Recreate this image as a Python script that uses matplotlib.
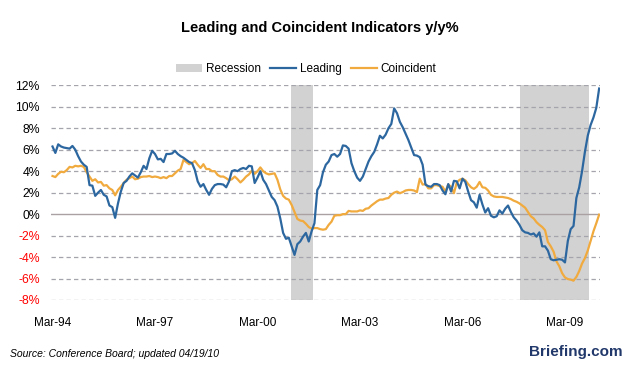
import matplotlib.pyplot as plt

plt.rcParams['font.family'] = ['Liberation Sans', 'DejaVu Sans']

# monthly y/y %, Mar-94 .. Mar-10
leading = [
    6.3, 5.7, 6.5, 6.3, 6.2, 6.15, 6.1, 6.35, 6.0, 5.4,
    4.9, 4.6, 4.4, 2.7, 2.65, 1.7, 2.0, 2.25, 1.8, 1.65,
    0.8, 0.65, -0.35, 1.0, 2.1, 2.9, 3.1, 3.5, 3.8, 3.6,
    3.4, 3.9, 4.5, 4.2, 5.2, 5.9, 5.6, 5.1, 5.15, 4.85,
    5.6, 5.6, 5.65, 5.9, 5.6, 5.4, 5.25, 5.05, 4.85, 4.75,
    4.1, 3.05, 2.55, 2.8, 2.25, 1.8, 2.35, 2.7, 2.8, 2.8,
    2.75, 2.5, 3.05, 4.0, 4.1, 4.0, 4.2, 4.3, 4.2, 4.5,
    4.45, 2.9, 3.4, 4.0, 3.2, 2.8, 2.2, 1.6, 1.3, 0.7,
    -0.4, -1.75, -2.3, -2.2, -3.0, -3.8, -2.8, -2.55, -2.1, -1.75,
    -2.55, -1.6, -0.85, 2.25, 2.7, 3.9, 4.6, 4.9, 5.5, 5.6,
    5.35, 5.6, 6.4, 6.35, 6.1, 4.75, 4.0, 3.4, 3.1, 3.5,
    4.2, 4.9, 5.4, 5.8, 6.5, 7.3, 7.05, 7.4, 8.0, 8.4,
    9.85, 9.4, 8.6, 8.1, 7.5, 6.9, 6.2, 5.5, 5.45, 5.3,
    4.6, 2.75, 2.6, 2.55, 2.8, 2.8, 2.7, 2.2, 1.85, 2.8,
    2.1, 3.1, 3.05, 2.4, 3.3, 3.0, 2.1, 1.3, 1.1, 0.6,
    1.8, 0.9, 0.15, 0.55, -0.15, -0.3, -0.2, 0.35, 0.05, 0.5,
    0.8, 0.2, -0.3, -0.6, -1.0, -1.5, -1.7, -1.75, -1.9, -1.8,
    -2.1, -1.7, -3.0, -3.0, -3.4, -4.2, -4.3, -4.25, -4.2, -4.25,
    -4.5, -2.5, -1.4, -1.1, 1.5, 2.5, 4.0, 5.8, 7.3, 8.3,
    9.0, 9.9, 11.7,
]

coincident = [
    3.55, 3.45, 3.75, 3.95, 3.9, 4.1, 4.4, 4.35, 4.5, 4.45,
    4.5, 4.4, 3.9, 3.5, 3.1, 3.25, 2.95, 3.0, 2.65, 2.7,
    2.4, 2.25, 1.75, 2.25, 2.55, 2.9, 3.2, 3.35, 3.5, 3.25,
    3.3, 3.45, 3.5, 3.5, 3.55, 3.45, 3.5, 3.45, 3.35, 3.45,
    3.35, 3.55, 3.55, 3.8, 4.05, 4.2, 5.05, 4.85, 4.65, 4.75,
    4.95, 4.6, 4.3, 4.65, 4.2, 4.2, 4.0, 4.0, 3.65, 3.5,
    3.5, 3.35, 3.15, 3.25, 3.5, 3.25, 2.95, 3.2, 3.5, 3.7,
    4.05, 3.75, 4.0, 4.35, 4.0, 3.8, 3.7, 3.75, 3.8, 3.2,
    2.3, 1.7, 1.45, 1.35, 0.85, 0.2, -0.45, -0.6, -0.65, -0.9,
    -1.2, -1.35, -1.3, -1.3, -1.4, -1.45, -1.4, -1.0, -0.7, -0.15,
    -0.1, -0.1, 0.0, 0.0, 0.3, 0.25, 0.25, 0.25, 0.35, 0.3,
    0.5, 0.55, 0.8, 1.0, 1.2, 1.35, 1.35, 1.45, 1.5, 1.8,
    2.0, 2.1, 1.95, 2.05, 2.2, 2.25, 2.25, 2.2, 2.05, 3.3,
    2.75, 2.8, 2.4, 2.4, 2.7, 2.7, 2.6, 2.55, 2.1, 2.75,
    2.55, 1.95, 2.95, 3.2, 3.3, 3.15, 2.8, 2.5, 2.35, 2.55,
    3.0, 2.5, 2.45, 2.2, 1.8, 1.65, 1.6, 1.6, 1.6, 1.55,
    1.5, 1.4, 1.25, 1.15, 1.0, 0.8, 0.6, 0.2, -0.2, -0.4,
    -0.75, -1.0, -1.2, -1.5, -2.6, -3.0, -3.5, -4.4, -4.85, -5.5,
    -5.9, -6.05, -6.1, -6.2, -5.85, -5.3, -4.6, -4.1, -3.4, -2.5,
    -1.6, -0.85, -0.05,
]

# recession spans (month index from Mar-94)
recessions = [(83.8, 91.4), (164.2, 188.4)]

tick_months = [0, 36, 72, 108, 144, 180]
tick_labels = ["Mar-94", "Mar-97", "Mar-00", "Mar-03", "Mar-06", "Mar-09"]
y_ticks = [-8, -6, -4, -2, 0, 2, 4, 6, 8, 10, 12]

W, H = 628, 369
fig = plt.figure(figsize=(W / 100, H / 100), dpi=100)
ax = fig.add_axes([51 / W, 1 - 300 / H, (600 - 51) / W, (300 - 85.3) / H])

months = list(range(len(leading)))

for i, (a, b) in enumerate(recessions):
    ax.axvspan(a, b, color="#d2d2d2", lw=0, zorder=1,
               label="Recession" if i == 0 else None)

for v in y_ticks:
    if v == 0:
        ax.axhline(v, color="#aaa2a2", lw=1.0, zorder=2)
    else:
        ax.axhline(v, color="#a4a4ac", lw=0.9, ls=(0, (3.5, 2.5)), zorder=2)

ax.plot(months, leading, color="#2d67a0", lw=1.6, label="Leading", zorder=4)
ax.plot(months, coincident, color="#f0aa3e", lw=1.6, label="Coincident", zorder=3)

ax.set_xlim(-0.53, 192.3)
ax.set_ylim(-8, 12)
ax.set_xticks(tick_months)
ax.set_xticklabels(tick_labels, fontsize=8.5)
ax.set_yticks(y_ticks)
ax.set_yticklabels([f"{v}%" for v in y_ticks], fontsize=8.8)
for lab, v in zip(ax.get_yticklabels(), y_ticks):
    lab.set_color("red" if v < 0 else "black")
ax.tick_params(axis="x", length=0, pad=12)
ax.tick_params(axis="y", length=0, pad=8)
for s in ax.spines.values():
    s.set_visible(False)

fig.text(320 / W, 1 - 28 / H, "Leading and Coincident Indicators y/y%",
         ha="center", va="center", fontsize=10.5, fontweight="bold")

leg = ax.legend(loc="center", bbox_to_anchor=(306 / W, 1 - 69 / H),
                bbox_transform=fig.transFigure, ncol=3, frameon=False,
                fontsize=8.5, handlelength=2.2, handletextpad=0.3,
                columnspacing=0.8)

fig.text(10 / W, 1 - 354 / H, "Source: Conference Board; updated 04/19/10",
         ha="left", va="center", fontsize=7.5, style="italic")
fig.text(623 / W, 1 - 352 / H, "Briefing.com", ha="right", va="center",
         fontsize=11, fontweight="bold", color="#21386a")

fig.savefig("out.png", dpi=100)
